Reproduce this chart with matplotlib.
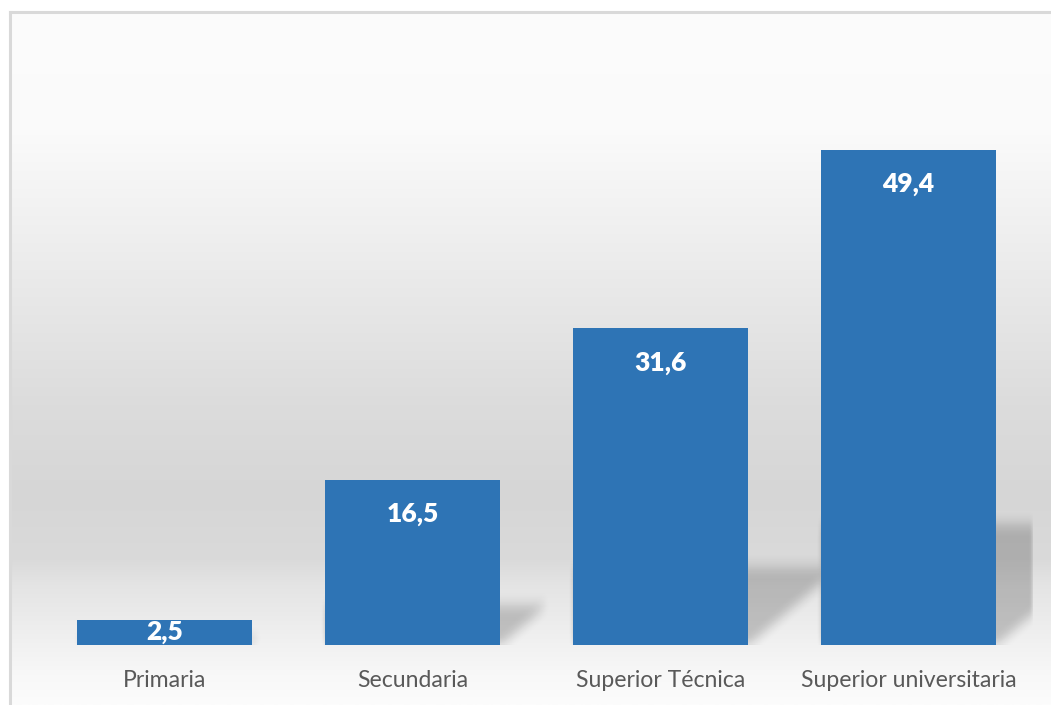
import numpy as np
import matplotlib
matplotlib.use("Agg")
import matplotlib.pyplot as plt
from matplotlib.path import Path
from matplotlib.lines import Line2D

plt.rcParams['font.family'] = ['Lato', 'DejaVu Sans']

# datos
categorias = ["Primaria", "Secundaria", "Superior Técnica", "Superior universitaria"]
valores = [2.5, 16.5, 31.6, 49.4]
etiquetas = ["2,5", "16,5", "31,6", "49,4"]

# degradado del fondo (pixel y, gris)
grad_y = [12, 135, 225, 315, 405, 495, 560, 585, 630, 675, 705]
grad_v = [252, 250, 240, 230, 220, 214, 218, 228, 238, 248, 252]

W, H = 1051, 705
fig = plt.figure(figsize=(W / 100, H / 100), dpi=100)
fig.patch.set_facecolor("white")

# fondo con degradado vertical
bg = fig.add_axes([0, 0, 1, 1], zorder=-5)
bg.set_xlim(0, W)
bg.set_ylim(H, 0)
bg.axis("off")
yy = np.arange(12, H + 1)
gris = np.interp(yy, grad_y, grad_v) / 255.0
img = np.repeat(gris[:, None], 2, axis=1)
img = np.dstack([img, img, img])
bg.imshow(img, extent=(10, W, H, 12), aspect="auto", interpolation="bilinear", zorder=0)
bg.add_line(Line2D([10, 10], [12, H], color="#d9d9d9", lw=2.2, zorder=3))
bg.add_line(Line2D([10, W], [12, 12], color="#d9d9d9", lw=2.2, zorder=3))

# ejes principales
left, right, base, top = 40.5, 1032.5, 645, 44
ax = fig.add_axes([left / W, (H - base) / H, (right - left) / W, (base - top) / H])
ax.patch.set_visible(False)
x = np.arange(len(categorias))
ymax = 60
ax.set_xlim(-0.5, len(categorias) - 0.5)
ax.set_ylim(0, ymax)
for s in ax.spines.values():
    s.set_visible(False)
ax.set_yticks([])
ax.set_xticks(x)
ax.set_xticklabels(categorias, fontsize=16.6, color="#595959")
ax.tick_params(axis="x", length=0, pad=18)

ancho = 0.706
ax.bar(x, valores, width=ancho, color="#2e74b5", zorder=3)

# sombras difuminadas detrás de las barras
nx, ny = int(right - left), int(base - top)
px_x = nx / len(categorias)
px_y = ny / ymax
gx = -0.5 + (np.arange(nx) + 0.5) / px_x
gy = (np.arange(ny) + 0.5) / px_y
GX, GY = np.meshgrid(gx, gy)
pts = np.column_stack([GX.ravel(), GY.ravel()])
mask = np.zeros(GX.size)
pend = 0.85 * px_x / px_y
for xi, v in zip(x, valores):
    hs = 0.245 * v
    xr = xi + ancho / 2
    poly = [(xi - ancho / 2, 0), (xr, 0), (xr + hs / pend, hs), (xi - ancho / 2, hs)]
    mask = np.maximum(mask, Path(poly).contains_points(pts).astype(float))
mask = mask.reshape(GX.shape)


def suavizar(a, k, eje):
    ker = np.ones(k) / k
    return np.apply_along_axis(lambda r: np.convolve(r, ker, mode="same"), eje, a)


for _ in range(2):
    mask = suavizar(mask, 15, 0)
    mask = suavizar(mask, 5, 1)
mask[0, :] = mask[1, :]
sombra = np.zeros((ny, nx, 4))
sombra[..., 3] = mask * 0.2
ax.imshow(sombra, extent=(-0.5, len(categorias) - 0.5, 0, ymax), origin="lower",
          aspect="auto", interpolation="bilinear", zorder=1)

for xi, v, t in zip(x, valores, etiquetas):
    ax.text(xi, max(v - 3.4, v / 2), t, ha="center", va="center", color="white",
            fontsize=19, fontweight="heavy", zorder=4)

fig.savefig("out.png", dpi=100)
